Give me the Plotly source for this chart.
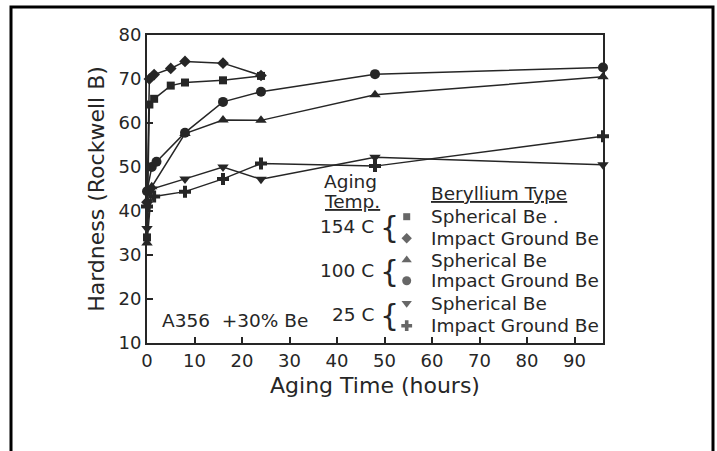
import plotly.graph_objects as go

# ---- data ----
t_154_sph = [0, 0.5, 1.5, 5, 8, 16, 24]
h_154_sph = [34, 64.2, 65.5, 68.5, 69.2, 69.7, 70.7]

t_154_imp = [0, 0.5, 1.5, 5, 8, 16, 24]
h_154_imp = [42, 70, 71, 72.4, 74, 73.6, 70.8]

t_100_sph = [0, 1, 8, 16, 24, 48, 96]
h_100_sph = [32.7, 45.5, 57.6, 60.7, 60.6, 66.4, 70.5]

t_100_imp = [0, 1, 2, 8, 16, 24, 48, 96]
h_100_imp = [44.5, 50, 51.2, 57.8, 64.8, 67.1, 71.1, 72.6]

t_25_sph = [0, 1, 8, 16, 24, 48, 96]
h_25_sph = [36, 45, 47.3, 50, 47.2, 52.2, 50.5]

t_25_imp = [0, 1.5, 8, 16, 24, 48, 96]
h_25_imp = [41, 43.3, 44.4, 47.3, 50.8, 50.2, 57]

x_ticks = [0, 10, 20, 30, 40, 50, 60, 70, 80, 90]
y_ticks = [10, 20, 30, 40, 50, 60, 70, 80]

temps = ["154 C", "100 C", "25 C"]
types = ["Spherical Be .", "Impact Ground Be", "Spherical Be",
         "Impact Ground Be", "Spherical Be", "Impact Ground Be"]

# ---- styling ----
INK = "#262626"
FONT = "DejaVu Sans"

series = [
    (t_154_sph, h_154_sph, "square", 8),
    (t_154_imp, h_154_imp, "diamond", 9),
    (t_100_sph, h_100_sph, "triangle-up", 10),
    (t_100_imp, h_100_imp, "circle", 10),
    (t_25_sph, h_25_sph, "triangle-down", 10),
    (t_25_imp, h_25_imp, "cross", 10),
]

fig = go.Figure()
for xs, ys, sym, sz in series:
    fig.add_trace(go.Scatter(
        x=xs, y=ys, mode="lines+markers",
        line=dict(color=INK, width=1.5),
        marker=dict(symbol=sym, size=sz, color=INK, line=dict(width=0)),
        cliponaxis=False, showlegend=False, hoverinfo="x+y"))

# pixel -> data helpers for the drawn key
def dx(px):
    return (px - 147) / 4.75

def dy(py):
    return 80 - (py - 35) / 4.4

key_rows_py = [216.7, 238.3, 260, 280.7, 303.3, 325.7]
key_syms = ["square", "diamond", "triangle-up", "circle", "triangle-down", "cross"]
key_sizes = [7, 8, 9, 9, 9, 9]
fig.add_trace(go.Scatter(
    x=[dx(406.7)] * 6, y=[dy(p) for p in key_rows_py], mode="markers",
    marker=dict(symbol=key_syms, size=key_sizes, color=INK, line=dict(width=0)),
    showlegend=False, hoverinfo="skip", cliponaxis=False))

TXT = dict(size=18.5, color=INK, family=FONT)
ann = []
for label, py in zip(types, key_rows_py):
    ann.append(dict(x=dx(429), y=dy(py), text=label, xanchor="left", yanchor="middle",
                    showarrow=False, font=TXT))
for label, py in zip(temps, [226, 270, 314]):
    ann.append(dict(x=dx(376), y=dy(py), text=label, xanchor="right", yanchor="middle",
                    showarrow=False, font=TXT))
    ann.append(dict(x=dx(389), y=dy(py + 1), text="{", xanchor="center", yanchor="middle",
                    showarrow=False, font=dict(size=30, color=INK, family=FONT)))
ann.append(dict(x=dx(322), y=dy(181), text="Aging", xanchor="left", yanchor="middle",
                showarrow=False, font=TXT))
ann.append(dict(x=dx(322), y=dy(201), text="<u>Temp.</u>", xanchor="left", yanchor="middle",
                showarrow=False, font=TXT))
ann.append(dict(x=dx(429), y=dy(193), text="<u>Beryllium Type</u>", xanchor="left",
                yanchor="middle", showarrow=False, font=TXT))
ann.append(dict(x=dx(160), y=dy(320), text="A356  +30% Be", xanchor="left", yanchor="middle",
                showarrow=False, font=TXT))
for a in ann:
    a["xref"] = "x"
    a["yref"] = "y"

# outer frame (paper coordinates from pixels)
def pxp(px):
    return (px - 147) / 456

def pyp(py):
    return (343 - py) / 308

fig.update_layout(
    width=717, height=451,
    margin=dict(l=147, r=114, t=35, b=108),
    paper_bgcolor="white", plot_bgcolor="white",
    font=dict(family=FONT, color=INK),
    annotations=ann,
    shapes=[dict(type="path", xref="paper", yref="paper",
                 path=f"M {pxp(11)} {pyp(470)} L {pxp(11)} {pyp(7)} L {pxp(713)} {pyp(7)} L {pxp(713)} {pyp(470)}",
                 line=dict(color="black", width=3))],
    xaxis=dict(range=[0, 96], tickvals=x_ticks, ticks="inside", ticklen=6,
               tickwidth=1.5, tickcolor=INK, showgrid=False, zeroline=False,
               showline=True, linecolor=INK, linewidth=2, mirror=True,
               tickfont=dict(size=18, family=FONT, color=INK),
               title=dict(text="Aging Time (hours)", standoff=8,
                          font=dict(size=22, family=FONT, color=INK))),
    yaxis=dict(range=[10, 80], tickvals=y_ticks, ticks="inside", ticklen=6,
               tickwidth=1.5, tickcolor=INK, showgrid=False, zeroline=False,
               showline=True, linecolor=INK, linewidth=2, mirror=True,
               tickfont=dict(size=18, family=FONT, color=INK),
               title=dict(text="Hardness (Rockwell B)", standoff=8,
                          font=dict(size=22, family=FONT, color=INK))),
)

fig.write_html("out.html", config={"displayModeBar": False},
               post_script="document.body.style.margin='0px';")
